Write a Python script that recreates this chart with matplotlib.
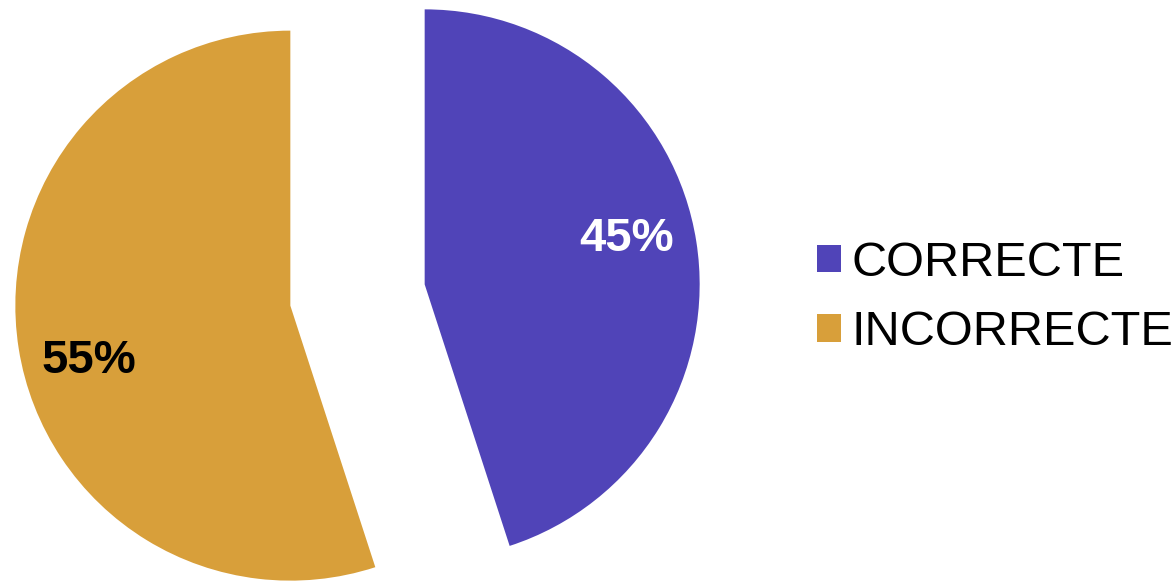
import numpy as np
import matplotlib
matplotlib.use('Agg')
import matplotlib.pyplot as plt
from matplotlib.patches import Patch

plt.rcParams['font.family'] = ['Liberation Sans', 'DejaVu Sans']

labels = ['CORRECTE', 'INCORRECTE']
sizes = [45, 55]
colors = ['#5044B8', '#D89F3A']
pct_colors = ['white', 'black']

W, H = 1174, 581
fig = plt.figure(figsize=(W / 100, H / 100), dpi=100)
ax = fig.add_axes([0, 0, 1, 1])

radius = 275
center = (357.5, H - 295)
# explode is in data units here (pixels)
wedges, texts = ax.pie(sizes, colors=colors, startangle=90, counterclock=False,
                       radius=radius, center=center, explode=[68, 68])
ax.set_xlim(0, W)
ax.set_ylim(0, H)
ax.set_aspect('equal')
ax.axis('off')

# percentage labels, a little off the bisector like the original
for w, s, c in zip(wedges, sizes, pct_colors):
    mid = np.deg2rad((w.theta1 + w.theta2) / 2 + 5)
    cx, cy = w.center
    ax.text(cx + 0.755 * radius * np.cos(mid), cy + 0.755 * radius * np.sin(mid) - 5,
            '%d%%' % s, ha='center', va='center', fontsize=34,
            fontweight='bold', color=c)

handles = [Patch(facecolor=c, edgecolor='none') for c in colors]
fig.legend(handles, labels, loc='center left', bbox_to_anchor=(817 / W, 1 - 298 / H),
           frameon=False, fontsize=35, handlelength=0.5, handleheight=0.5,
           handletextpad=0.2, labelspacing=0.5, borderpad=0, borderaxespad=0)

plt.savefig('out.png', dpi=100)
